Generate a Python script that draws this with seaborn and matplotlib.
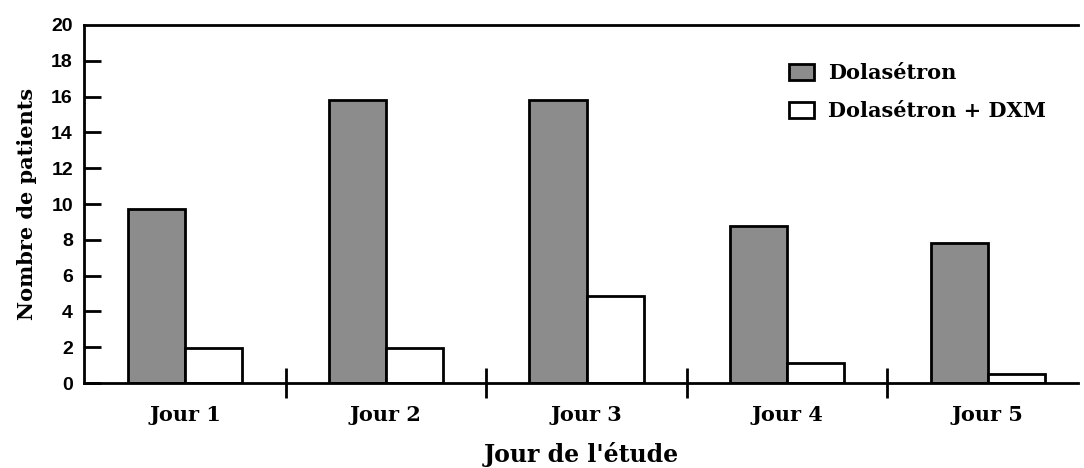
import pandas as pd
import matplotlib

matplotlib.use("Agg")
import matplotlib.pyplot as plt
import seaborn as sns

# données
jours = ["Jour 1", "Jour 2", "Jour 3", "Jour 4", "Jour 5"]
dolasetron = [9.7, 15.8, 15.8, 8.75, 7.8]
dolasetron_dxm = [1.95, 1.95, 4.85, 1.1, 0.5]
groupes = ["Dolasétron", "Dolasétron + DXM"]
y_ticks = list(range(0, 21, 2))

df = pd.DataFrame({
    "jour": jours * 2,
    "groupe": [groupes[0]] * len(jours) + [groupes[1]] * len(jours),
    "patients": dolasetron + dolasetron_dxm,
})

sns.set_style("white")
plt.rcParams["text.color"] = "black"
plt.rcParams["axes.labelcolor"] = "black"
plt.rcParams["xtick.color"] = "black"
plt.rcParams["ytick.color"] = "black"
serif = ["DejaVu Serif"]

fig = plt.figure(figsize=(10.84, 4.68), dpi=100)
ax = fig.add_axes([0.0775, 0.1816, 0.917, 0.765])

sns.barplot(data=df, x="jour", y="patients", hue="groupe", ax=ax,
            palette={groupes[0]: "#8c8c8c", groupes[1]: "white"},
            edgecolor="black", linewidth=2, width=0.57, saturation=1)

ax.set_ylim(0, 20)
ax.set_xlim(-0.505, 4.45)
ax.set_yticks(y_ticks)
ax.set_yticklabels([str(t) for t in y_ticks], fontsize=14,
                   family="Liberation Sans", fontweight="bold")
ax.tick_params(axis="y", left=True, direction="in", length=12, width=2, pad=8)
ax.yaxis.get_major_ticks()[-1].tick1line.set_visible(False)

# séparateurs entre les jours
ax.tick_params(axis="x", which="major", length=0, pad=16)
ax.set_xticks([0.5, 1.5, 2.5, 3.5], minor=True)
ax.tick_params(axis="x", which="minor", bottom=True, direction="inout",
               length=22, width=2)
for lab in ax.get_xticklabels():
    lab.set_family(serif)
    lab.set_fontweight("bold")
    lab.set_fontsize(15)

for side in ["left", "top", "bottom"]:
    ax.spines[side].set_linewidth(2)
    ax.spines[side].set_color("black")
ax.spines["right"].set_visible(False)

ax.set_ylabel("Nombre de patients", family=serif, fontweight="bold",
              fontsize=15, labelpad=10)
ax.set_xlabel("Jour de l'étude", family=serif, fontweight="bold",
              fontsize=17, labelpad=12)

handles, labels = ax.get_legend_handles_labels()
ax.legend(handles, labels, loc="upper left", bbox_to_anchor=(0.69, 0.945),
          frameon=False, handlelength=1.2, handleheight=0.8,
          handletextpad=0.7, labelspacing=0.85,
          prop={"family": serif, "weight": "bold", "size": 15})

fig.savefig("out.png", dpi=100)
plt.close(fig)
